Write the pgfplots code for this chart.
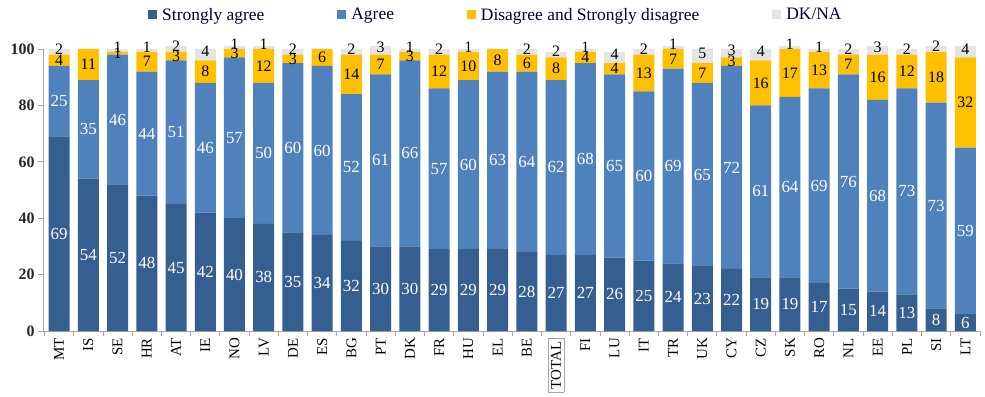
\documentclass[border=0pt]{standalone}
\usepackage{fontspec}
\setmainfont{Liberation Serif}
\usepackage{pgfplots}
\usepackage{pgfplotstable}
\pgfplotsset{compat=1.18}
\definecolor{csa}{HTML}{355E91}
\definecolor{cag}{HTML}{4F81BD}
\definecolor{cdis}{HTML}{FFC000}
\definecolor{cdk}{HTML}{E4E4E4}
\definecolor{axgray}{HTML}{A6A6A6}
\pgfplotstableread{
x  c     sa ag dis dk
0  MT    69 25 4  2
1  IS    54 35 11 0
2  SE    52 46 1  1
3  HR    48 44 7  1
4  AT    45 51 3  2
5  IE    42 46 8  4
6  NO    40 57 3  1
7  LV    38 50 12 1
8  DE    35 60 3  2
9  ES    34 60 6  0
10 BG    32 52 14 2
11 PT    30 61 7  3
12 DK    30 66 3  1
13 FR    29 57 12 2
14 HU    29 60 10 1
15 EL    29 63 8  0
16 BE    28 64 6  2
17 TOTAL 27 62 8  2
18 FI    27 68 4  1
19 LU    26 65 4  4
20 IT    25 60 13 2
21 TR    24 69 7  1
22 UK    23 65 7  5
23 CY    22 72 3  3
24 CZ    19 61 16 4
25 SK    19 64 17 1
26 RO    17 69 13 1
27 NL    15 76 7  2
28 EE    14 68 16 3
29 PL    13 73 12 2
30 SI    8  73 18 2
31 LT    6  59 32 4
}\data
\begin{document}
\begin{tikzpicture}
\begin{axis}[name=ax,
  scale only axis, width=937bp, height=282bp,
  ybar stacked, bar width=21bp,
  ymin=0, ymax=100, xmin=-0.55, xmax=31.5,
  clip=false,
  axis x line*=bottom, axis y line*=left,
  axis line style={axgray, line width=0.8pt},
  ytick={0,20,...,100},
  yticklabel style={font=\fontsize{16}{16}\selectfont\bfseries, text=black!85},
  /pgf/number format/assume math mode=true,
  ytick style={axgray, line width=0.8pt},
  xtick=data,
  xticklabels={MT,IS,SE,HR,AT,IE,NO,LV,DE,ES,BG,PT,DK,FR,HU,EL,BE,{\fcolorbox{axgray}{white}{TOTAL}},FI,LU,IT,TR,UK,CY,CZ,SK,RO,NL,EE,PL,SI,LT},
  xticklabel style={rotate=90, anchor=east, font=\fontsize{15}{15}\selectfont, inner sep=2pt},
  major x tick style={draw=none},
  minor xtick={-0.5,0.5,...,31.5},
  minor x tick style={axgray, line width=0.8pt},
  tick align=outside,
  major tick length=5bp, minor tick length=5bp,
  nodes near coords,
  point meta=explicit,
  every node near coord/.append style={anchor=center, font=\fontsize{17}{17}\selectfont, inner sep=0pt},
  legend columns=4,
  legend cell align=left,
  legend image code/.code={\draw[#1,draw=none] (0bp,-4.5bp) rectangle (9bp,4.5bp);},
  legend style={draw=none, fill=none, inner sep=0pt, anchor=west, at={(0.1121,1.1206)},
    font=\fontsize{17.5}{17.5}\selectfont, text=black!80!blue,
    nodes={inner sep=0pt, anchor=west},
    /tikz/every odd column/.append style={column sep=5bp},
    /tikz/every even column/.append style={column sep=73bp}},
]
\addplot[fill=csa, draw=none, every node near coord/.append style={text=white}] table[x=x, y=sa, meta=sa] {\data};
\addlegendentry{Strongly agree}
\addplot[fill=cag, draw=none, every node near coord/.append style={text=white}] table[x=x, y=ag, meta=ag] {\data};
\addlegendentry{Agree}
\addplot[fill=cdis, draw=none, every node near coord/.append style={text=black, font=\fontsize{16}{16}\selectfont}] table[x=x, y=dis, meta=dis] {\data};
\addlegendentry{Disagree and Strongly disagree}
\addplot[fill=cdk, draw=none, every node near coord/.append style={text=black, yshift=3bp, font=\fontsize{16}{16}\selectfont}] table[x=x, y=dk, meta=dk] {\data};
\addlegendentry{DK/NA}
\end{axis}
\pgfresetboundingbox
\path ([xshift=-43bp,yshift=-66bp]ax.south west) rectangle ([xshift=5bp,yshift=49bp]ax.north east);
\end{tikzpicture}
\end{document}
